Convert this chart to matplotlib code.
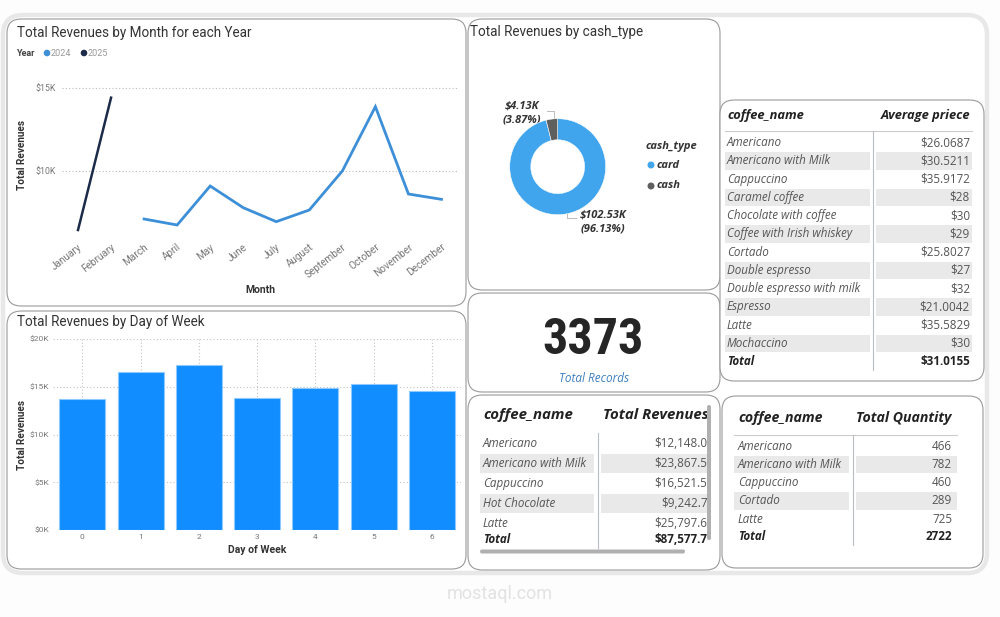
import numpy as np
import matplotlib.pyplot as plt
from matplotlib.patches import FancyBboxPatch, Rectangle
from matplotlib.ticker import FuncFormatter
from matplotlib.transforms import Bbox, TransformedBbox

W, H = 1000, 617

# ---- data ----
months = ["January", "February", "March", "April", "May", "June", "July",
          "August", "September", "October", "November", "December"]
rev_2024 = [np.nan, np.nan, 7120, 6760, 9100, 7800, 6960, 7660, 10000, 13860, 8620, 8300]
rev_2025 = [6460, 14400] + [np.nan] * 10

days = [0, 1, 2, 3, 4, 5, 6]
day_revenue = [13720, 16500, 17280, 13790, 14900, 15260, 14550]

cash_types = ["card", "cash"]
cash_revenue = [102530, 4130]
cash_labels = ["$102.53K\n(96.13%)", "$4.13K\n(3.87%)"]

total_records = 3373

price_names = ["Americano", "Americano with Milk", "Cappuccino", "Caramel coffee",
               "Chocolate with coffee", "Coffee with Irish whiskey", "Cortado",
               "Double espresso", "Double espresso with milk", "Espresso", "Latte",
               "Mochaccino"]
avg_price = [26.0687, 30.5211, 35.9172, 28, 30, 29, 25.8027, 27, 32, 21.0042, 35.5829, 30]
avg_price_total = 31.0155

rev_names = ["Americano", "Americano with Milk", "Cappuccino", "Hot Chocolate", "Latte"]
rev_values = [12148.04, 23867.52, 16521.56, 9242.72, 25797.64]
rev_total = 87577.74

qty_names = ["Americano", "Americano with Milk", "Cappuccino", "Cortado", "Latte"]
qty_values = [466, 782, 460, 289, 725]
qty_total = 2722

BLUE_LINE = "#3d8fd8"
NAVY = "#1c2b4a"
BAR_BLUE = "#118dff"
CARD = "#41a5ee"
CASH = "#5f5f5f"
TXT = "#333333"
GRAY = "#777777"

CHART_FONT = ["Roboto", "DejaVu Sans"]
TABLE_FONT = ["Open Sans", "Noto Sans", "DejaVu Sans"]

fig = plt.figure(figsize=(W / 100, H / 100), dpi=100)
fig.patch.set_facecolor("#fdfdfd")

# background layer in pixel coordinates
bg = fig.add_axes([0, 0, 1, 1], zorder=0)
bg.set_xlim(0, W)
bg.set_ylim(H, 0)
bg.axis("off")


def px_axes(x0, y0, x1, y1):
    a = fig.add_axes([x0 / W, 1 - y1 / H, (x1 - x0) / W, (y1 - y0) / H], zorder=2)
    a.set_facecolor("none")
    return a


def panel(x0, y0, x1, y1, r=14):
    bg.add_patch(FancyBboxPatch((x0, y0), x1 - x0, y1 - y0,
                                boxstyle=f"round,pad=0,rounding_size={r}",
                                fc="white", ec="#9a9a9a", lw=0.8, zorder=1))


money_k = FuncFormatter(lambda v, p: f"${v / 1000:.0f}K")

# outer frame
bg.add_patch(FancyBboxPatch((3, 15), 984, 558, boxstyle="round,pad=0,rounding_size=20",
                            fc="white", ec="#e8e8e8", lw=3.2, zorder=0.5))

for box in [(7, 19, 466, 306), (7, 311, 466, 569), (468, 19, 720, 290),
            (468, 293, 720, 392), (468, 395, 720, 570), (720, 100, 984, 381),
            (722, 396, 983, 568)]:
    panel(*box)

# ---- line chart ----
bg.text(17, 33, "Total Revenues by Month for each Year", fontsize=9.75, color=TXT,
        family=CHART_FONT, va="center", zorder=3)
bg.text(17, 53, "Year", fontsize=6.5, weight="bold", color="#444", family=CHART_FONT,
        va="center", zorder=3)
bg.scatter([47, 84], [53, 53], s=14, c=[BLUE_LINE, NAVY], zorder=3)
bg.text(51, 53, "2024", fontsize=6.5, color="#999", family=CHART_FONT, va="center", zorder=3)
bg.text(88, 53, "2025", fontsize=6.5, color="#999", family=CHART_FONT, va="center", zorder=3)

ax1 = px_axes(61.5, 80, 458, 235)
x = np.arange(len(months))
ax1.plot(x, rev_2024, color=BLUE_LINE, lw=2.0, solid_joinstyle="miter")
ax1.plot(x, rev_2025, color=NAVY, lw=1.8)
ax1.set_xlim(-0.5, len(months) - 0.5)
ax1.set_ylim(6160, 15460)
ax1.set_yticks([10000, 15000])
ax1.yaxis.set_major_formatter(money_k)
ax1.set_xticks(x)
ax1.set_xticklabels(months, rotation=38, ha="right", rotation_mode="anchor")
ax1.tick_params(axis="y", length=0, labelsize=6.3, labelcolor=GRAY, pad=4)
ax1.tick_params(axis="x", length=0, labelsize=7.2, labelcolor=GRAY, pad=5)
ax1.grid(axis="y", ls=(0, (1, 2)), color="#bbbbbb", lw=0.8)
for s in ax1.spines.values():
    s.set_visible(False)
for lab in ax1.get_xticklabels() + ax1.get_yticklabels():
    lab.set_family(CHART_FONT)
bg.text(22, 155, "Total Revenues", rotation=90, fontsize=7.2, weight="bold", color=TXT,
        family=CHART_FONT, ha="center", va="center", zorder=3)
bg.text(260, 290, "Month", fontsize=7.5, weight="bold", color=TXT, family=CHART_FONT,
        ha="center", va="center", zorder=3)

# ---- bar chart ----
bg.text(17, 322, "Total Revenues by Day of Week", fontsize=9.75, color=TXT,
        family=CHART_FONT, va="center", zorder=3)
ax2 = px_axes(53.2, 339, 461, 530)
ax2.bar(days, day_revenue, width=0.79, color=BAR_BLUE, edgecolor="#8fcaff", lw=0.8)
ax2.set_xlim(-0.5, len(days) - 0.5)
ax2.set_ylim(0, 20000)
ax2.set_yticks([0, 5000, 10000, 15000, 20000])
ax2.yaxis.set_major_formatter(money_k)
ax2.set_xticks(days)
ax2.set_axisbelow(True)
ax2.grid(ls=(0, (1, 2)), color="#c4c4c4", lw=0.8)
ax2.tick_params(length=0, labelsize=6, labelcolor=GRAY, pad=3)
for s in ax2.spines.values():
    s.set_visible(False)
for lab in ax2.get_xticklabels() + ax2.get_yticklabels():
    lab.set_family(CHART_FONT)
bg.text(22, 435, "Total Revenues", rotation=90, fontsize=7.2, weight="bold", color=TXT,
        family=CHART_FONT, ha="center", va="center", zorder=3)
bg.text(257, 550, "Day of Week", fontsize=7.5, weight="bold", color=TXT, family=CHART_FONT,
        ha="center", va="center", zorder=3)

# ---- donut ----
bg.text(470, 32, "Total Revenues by cash_type", fontsize=9.75, color=TXT,
        family=CHART_FONT, va="center", zorder=3)
cx, cy = 557.7, 166.7
ax3 = px_axes(cx - 60, cy - 60, cx + 60, cy + 60)
ax3.pie(cash_revenue, colors=[CARD, CASH], startangle=90, counterclock=False, radius=1,
        wedgeprops=dict(width=0.44, edgecolor="white", linewidth=0.4))
ax3.set_xlim(-1.25, 1.25)
ax3.set_ylim(-1.25, 1.25)
ax3.set_aspect("equal")
bg.text(603, 222, cash_labels[0], fontsize=8, weight="bold", style="italic", color=TXT,
        family=TABLE_FONT, ha="center", va="center", linespacing=1.45, zorder=3)
bg.text(522, 113, cash_labels[1], fontsize=8, weight="bold", style="italic", color=TXT,
        family=TABLE_FONT, ha="center", va="center", linespacing=1.45, zorder=3)
bg.plot([547, 554, 554], [111, 111, 121], color="#bbbbbb", lw=0.7, zorder=3)
bg.plot([567, 567, 576], [211, 218, 218], color="#bbbbbb", lw=0.7, zorder=3)
bg.text(646, 147, "cash_type", fontsize=8, weight="bold", style="italic", color=TXT,
        family=TABLE_FONT, va="center", zorder=3)
bg.scatter([651, 651], [165, 186], s=16, c=[CARD, CASH], zorder=3)
for yy, name in zip([165, 186], cash_types):
    bg.text(657, yy, name, fontsize=8, weight="bold", style="italic", color=TXT,
            family=TABLE_FONT, va="center", zorder=3)

# ---- KPI card ----
bg.text(593, 340, f"{total_records}", fontsize=36, weight="bold", color="#252525",
        family=["Roboto Condensed", "Liberation Sans Narrow", "DejaVu Sans"],
        ha="center", va="center", zorder=3)
bg.text(594, 378, "Total Records", fontsize=8.5, style="italic", color="#3f7fbf",
        family=TABLE_FONT, ha="center", va="center", zorder=3)


# ---- tables ----
def table(names, values, total, hx, hy, rx, sep_x, line_y, row_y, dy, total_y,
          headers, shade, hsize=9.3, clip=None):
    out = []
    out.append(bg.text(hx, hy, headers[0], fontsize=hsize, weight="bold", style="italic",
                       color="#222", family=TABLE_FONT, va="center", zorder=3))
    h2 = bg.text(rx, hy, headers[1], fontsize=hsize, weight="bold", style="italic",
                 color="#222", family=TABLE_FONT, va="center", ha="right", zorder=3)
    out.append(h2)
    if line_y is not None:
        bg.plot([shade[0], shade[3]], [line_y, line_y], color="#cccccc", lw=0.8, zorder=2)
    for i, (n, v) in enumerate(zip(names, values)):
        y = row_y + i * dy
        if i % 2 == 1:
            bg.add_patch(Rectangle((shade[0], y - dy / 2 + 0.5), shade[1] - shade[0], dy - 1,
                                   fc="#e9e9e9", ec="none", zorder=2))
            bg.add_patch(Rectangle((shade[2], y - dy / 2 + 0.5), shade[3] - shade[2], dy - 1,
                                   fc="#e9e9e9", ec="none", zorder=2))
        bg.text(hx, y, n, fontsize=8.4, style="italic", color="#555", family=TABLE_FONT,
                va="center", zorder=3)
        out.append(bg.text(rx, y, v, fontsize=8.4, color="#555", family=TABLE_FONT,
                           va="center", ha="right", zorder=3))
    bg.text(hx, total_y, "Total", fontsize=8.4, weight="bold", style="italic", color="#222",
            family=TABLE_FONT, va="center", zorder=3)
    out.append(bg.text(rx, total_y, total, fontsize=8.4, weight="bold", color="#222",
                       family=TABLE_FONT, va="center", ha="right", zorder=3))
    bg.plot([sep_x, sep_x], [line_y if line_y else row_y - dy / 2, total_y + 8],
            color="#b8bcc4", lw=0.8, zorder=2)
    if clip is not None:
        cb = TransformedBbox(Bbox.from_extents(*clip), bg.transData)
        for t in out[1:]:
            t.set_clip_box(cb)
            t.set_clip_on(True)
    return out


table(price_names, [f"${v:g}" for v in avg_price], f"${avg_price_total:g}",
      727, 115, 970, 873, 131, 142.7, 18.25, 361.7,
      ["coffee_name", "Average priece"], (725, 870, 876, 972))

hdr = table(rev_names, [f"${v:,.2f}" for v in rev_values], f"${rev_total:,.2f}",
            483, 415, 714, 598, None, 443.3, 20, 539.5,
            ["coffee_name", "Total Revenues"], (480, 594, 601, 707), hsize=10.8,
            clip=(470, 400, 707, 560))
hdr[1].set_ha("left")
hdr[1].set_x(603)

table(qty_names, [str(v) for v in qty_values], str(qty_total),
      738, 418, 952, 853, 435, 446.7, 18.1, 536.5,
      ["coffee_name", "Total Quantity"], (734, 849, 856, 957), hsize=10.2)

# scrollbars of the revenue table
bg.add_patch(FancyBboxPatch((707, 405), 4, 135, boxstyle="round,pad=0,rounding_size=2",
                            fc="#b0b0b0", ec="none", zorder=3))
bg.add_patch(FancyBboxPatch((480, 549.5), 205, 4, boxstyle="round,pad=0,rounding_size=2",
                            fc="#b0b0b0", ec="none", zorder=3))

# watermark
bg.text(500, 594, "mostaql.com", fontsize=13, color="#e2e2e2", family=CHART_FONT,
        ha="center", va="center", zorder=3)

fig.savefig("out.png", dpi=100, facecolor=fig.get_facecolor())
